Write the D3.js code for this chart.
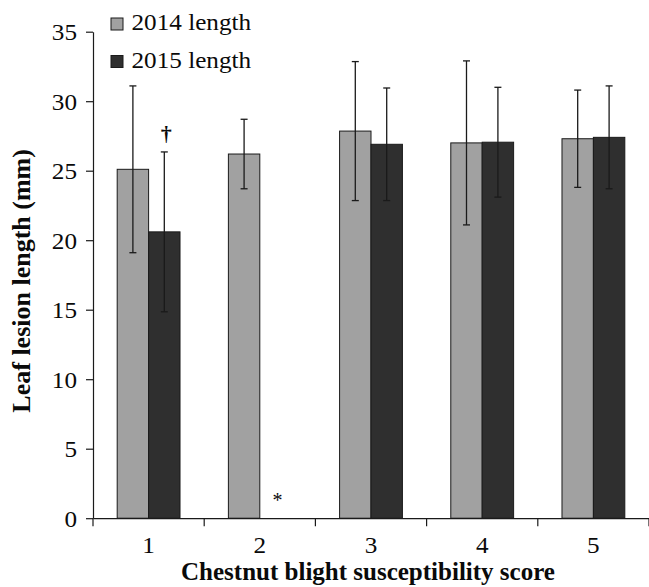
<!DOCTYPE html>
<html>
<head>
<meta charset="utf-8">
<script src="https://cdn.jsdelivr.net/npm/d3@7"></script>
<style>
  html, body { margin: 0; padding: 0; background: #fff; }
  svg { display: block; }
  text { font-family: "Liberation Serif", "Times New Roman", serif; fill: #0a0a0a; }
</style>
</head>
<body>
<svg id="chart" width="649" height="587"></svg>
<script>
// ---- data ----
const categories = ["1", "2", "3", "4", "5"];
const series = ["2014 length", "2015 length"];
const means2014 = [25.1, 26.2, 27.85, 27.0, 27.3];
const means2015 = [20.6, null, 26.9, 27.05, 27.4];
const sd2014 = [6.0, 2.5, 5.0, 5.9, 3.5];
const sd2015 = [5.75, null, 4.05, 3.95, 3.7];
const yTicks = [0, 5, 10, 15, 20, 25, 30, 35];
const annotations = [
  { category: "1", series: "2015 length", text: "\u2020", at: "errTop" },
  { category: "2", series: "2015 length", text: "*", at: "base" }
];
const yLabel = "Leaf lesion length (mm)";
const xLabel = "Chestnut blight susceptibility score";

// ---- layout ----
const mLeft = 93, mRight = 649, mTop = 31.7, mBottom = 518.2;
const colors = { "2014 length": "#a1a1a1", "2015 length": "#2f2f2f" };
const stretch = "scale(1.12,1)";
const serif = "Liberation Serif, Times New Roman, serif";

const svg = d3.select("#chart");

const x = d3.scaleBand().domain(categories).range([mLeft, mRight]).paddingInner(0).paddingOuter(0);
const xs = d3.scaleBand().domain(series).range([0, x.bandwidth()]).paddingInner(0).paddingOuter(0.77);
const y = d3.scaleLinear().domain([0, 35]).range([mBottom, mTop]);

const rows = [];
categories.forEach((c, i) => {
  rows.push({ category: c, series: series[0], mean: means2014[i], sd: sd2014[i] });
  rows.push({ category: c, series: series[1], mean: means2015[i], sd: sd2015[i] });
});
const present = rows.filter(d => d.mean != null);

// bars
svg.append("g").selectAll("rect").data(present).join("rect")
  .attr("x", d => x(d.category) + xs(d.series))
  .attr("y", d => y(d.mean))
  .attr("width", xs.bandwidth())
  .attr("height", d => y(0) - y(d.mean))
  .attr("fill", d => colors[d.series])
  .attr("stroke", "#1a1a1a")
  .attr("stroke-width", 1);

// error bars
const eb = svg.append("g").attr("stroke", "#1a1a1a").attr("stroke-width", 1.3);
present.forEach(d => {
  const cx = x(d.category) + xs(d.series) + xs.bandwidth() / 2;
  const y1 = y(d.mean + d.sd), y2 = y(d.mean - d.sd);
  eb.append("line").attr("x1", cx).attr("x2", cx).attr("y1", y1).attr("y2", y2);
  eb.append("line").attr("x1", cx - 3.5).attr("x2", cx + 3.5).attr("y1", y1).attr("y2", y1);
  eb.append("line").attr("x1", cx - 3.5).attr("x2", cx + 3.5).attr("y1", y2).attr("y2", y2);
});

// y axis
const yAxis = d3.axisLeft(y).tickValues(yTicks).tickSize(7).tickSizeOuter(0).tickPadding(0);
const gy = svg.append("g").attr("transform", `translate(${mLeft},0)`).call(yAxis)
  .attr("font-family", serif);
gy.select(".domain").attr("stroke", "#1a1a1a").attr("stroke-width", 1.2);
gy.selectAll(".tick line").attr("stroke", "#1a1a1a").attr("stroke-width", 1.2);
gy.selectAll(".tick text")
  .attr("x", null).attr("dy", null)
  .attr("text-anchor", "end")
  .attr("font-size", 22.5)
  .attr("fill", "#0a0a0a")
  .attr("transform", `translate(${77 - mLeft},8) ${stretch}`);

// x axis
const xAxis = d3.axisBottom(x).tickSize(0).tickSizeOuter(0);
const gx = svg.append("g").attr("transform", `translate(0,${mBottom})`).call(xAxis)
  .attr("font-family", serif);
gx.select(".domain").attr("stroke", "#1a1a1a").attr("stroke-width", 1.2);
gx.selectAll(".tick text")
  .attr("y", null).attr("dy", null)
  .attr("font-size", 22.5)
  .attr("fill", "#0a0a0a")
  .attr("transform", `translate(0,35) ${stretch}`);
// boundary ticks between categories
const bounds = categories.map(c => x(c)).concat([x(categories[categories.length - 1]) + x.bandwidth()]);
gx.append("g").selectAll("line").data(bounds).join("line")
  .attr("x1", d => d).attr("x2", d => d)
  .attr("y1", 0).attr("y2", 8)
  .attr("stroke", "#1a1a1a").attr("stroke-width", 1.2);

// axis labels
svg.append("text")
  .attr("transform", `translate(30,${(146.7 + 415) / 2}) rotate(-90)`)
  .attr("text-anchor", "middle")
  .attr("font-weight", "bold")
  .attr("font-size", 26)
  .text(yLabel);
svg.append("text")
  .attr("x", (mLeft + mRight) / 2 - 3)
  .attr("y", 580)
  .attr("text-anchor", "middle")
  .attr("font-weight", "bold")
  .attr("font-size", 25)
  .text(xLabel);

// legend
const lg = svg.append("g");
series.forEach((s, i) => {
  const yy = 18 + i * 37.5;
  lg.append("rect").attr("x", 111).attr("y", yy).attr("width", 12).attr("height", 12)
    .attr("fill", colors[s]).attr("stroke", "#1a1a1a").attr("stroke-width", 1);
  lg.append("text").attr("transform", `translate(131.5,${yy + 12}) ${stretch}`)
    .attr("font-size", 22.5).text(s);
});

// annotations
annotations.forEach(a => {
  const i = categories.indexOf(a.category);
  const si = series.indexOf(a.series);
  const cx = x(a.category) + xs(a.series) + xs.bandwidth() / 2;
  let yy;
  if (a.at === "errTop") {
    const m = si === 0 ? means2014[i] : means2015[i];
    const sd = si === 0 ? sd2014[i] : sd2015[i];
    yy = y(m + sd) - 11;
  } else {
    yy = y(0) - 11;
  }
  svg.append("text")
    .attr("x", cx + 2).attr("y", yy)
    .attr("text-anchor", "middle")
    .attr("font-size", a.at === "errTop" ? 22 : 20)
    .attr("font-weight", a.at === "errTop" ? "bold" : "normal")
    .text(a.text);
});
</script>
</body>
</html>
